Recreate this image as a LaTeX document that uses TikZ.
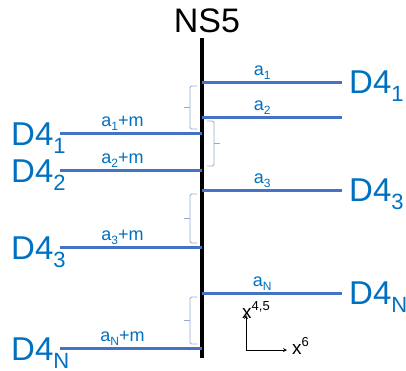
\documentclass[tikz,border=0pt]{standalone}
\usepackage{fontspec}
\setmainfont{Liberation Sans}
\usetikzlibrary{calc}
\definecolor{braneblue}{RGB}{68,114,196}
\definecolor{labelblue}{RGB}{0,112,192}
\definecolor{bracegray}{RGB}{150,170,210}
\newcommand{\dfour}[1]{D4\raisebox{-8.5pt}{\fontsize{22}{22}\selectfont #1}}
\newcommand{\asub}[1]{a\raisebox{-4pt}{\fontsize{12}{12}\selectfont #1}}
\newcommand{\xsup}[1]{x\raisebox{8pt}{\fontsize{13}{13}\selectfont #1}}

\begin{document}
\begin{tikzpicture}[x=1pt, y=-1pt, line join=round, >=stealth,
    brane/.style={braneblue, line width=3pt},
    bigtext/.style={labelblue, font=\fontsize{33}{33}\selectfont, inner sep=0pt, anchor=base west},
    smalltext/.style={labelblue, font=\fontsize{18}{18}\selectfont, inner sep=0pt, anchor=base, yshift=7pt},
    axistext/.style={font=\fontsize{19}{19}\selectfont, inner sep=0pt, anchor=base west},
    bracket/.style={bracegray, line width=0.8pt, rounded corners=1.5pt}]
    \useasboundingbox (0,0) rectangle (406,370);

    % NS5
    \coordinate (top) at (202,38);
    \coordinate (bot) at (202,358);
    \draw[line width=3.5pt] (top) -- (bot);
    \node[font=\fontsize{34}{34}\selectfont, inner sep=0pt, anchor=base] (ns5) at (207,32) {NS5};

    % D4 on the right
    \foreach \idx/\y/\i in {1/82/1, 2/117/2, 3/190/3, 4/293/N} {
        \coordinate (R\idx) at (202,\y);
        \coordinate (Re\idx) at (342,\y);
        \draw[brane] (R\idx) -- (Re\idx) node[smalltext, pos=0.43] (ra\idx) {\asub{\i}};
    }
    \foreach \idx/\i in {1/1, 3/3, 4/N}
        \node[bigtext] (rd\idx) at ([xshift=7pt, yshift=-11pt]Re\idx) {\dfour{\i}};

    % D4 on the left
    \foreach \idx/\y/\i in {1/133/1, 2/170/2, 3/247/3, 4/348/N} {
        \coordinate (Ls\idx) at (60,\y);
        \coordinate (L\idx) at (202,\y);
        \draw[brane] (Ls\idx) -- (L\idx) node[smalltext, pos=0.44] (la\idx) {\asub{\i}+m};
        \node[bigtext] (ld\idx) at ([yshift=-12pt]11,\y) {\dfour{\i}};
    }

    % brackets
    \foreach \a/\b/\s in {R1/L1/-1, R2/L2/1, R3/L3/-1, R4/L4/-1} {
        \draw[bracket] ($(\a)+(\s*5,4)$) -- ($(\a)+(\s*12,4)$) -- ($(\b)+(\s*12,-4)$) -- ($(\b)+(\s*5,-4)$);
        \draw[bracket] ($(\a)!0.5!(\b)+(\s*12,0)$) -- ($(\a)!0.5!(\b)+(\s*18,0)$);
    }

    % axes
    \coordinate (o) at (246,350);
    \coordinate (ox) at (287,350);
    \coordinate (oy) at (246,315);
    \draw[->, line width=0.8pt] (o) -- (ox);
    \draw[->, line width=0.8pt] (o) -- (oy);
    \node[axistext] (x45) at ([xshift=-4pt, yshift=-3pt]oy) {\xsup{4,5}};
    \node[axistext] (x6) at ([xshift=5pt, yshift=-4pt]ox) {\xsup{6}};
\end{tikzpicture}
\end{document}
